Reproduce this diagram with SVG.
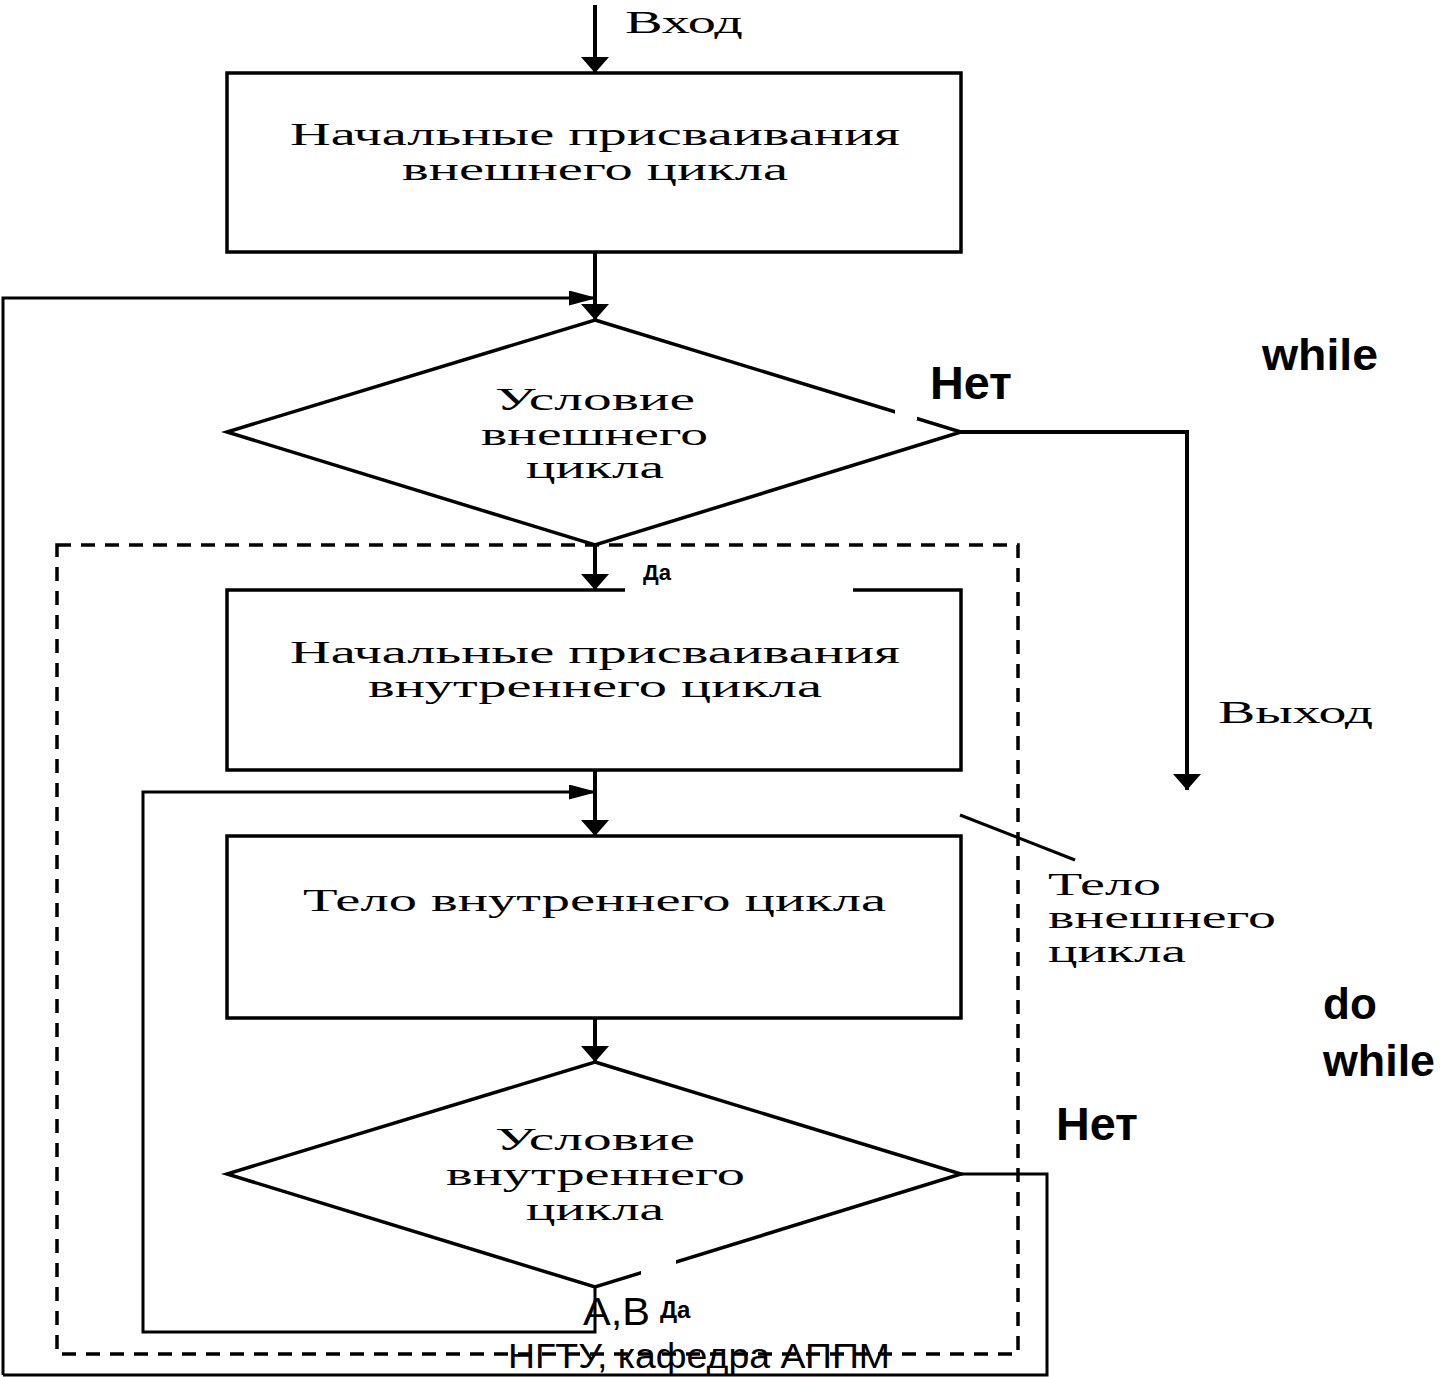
<svg xmlns="http://www.w3.org/2000/svg" width="1442" height="1377" viewBox="0 0 1442 1377">
<defs>
<marker id="ad" viewBox="0 0 16 28" refX="16" refY="14" markerWidth="16" markerHeight="28" markerUnits="userSpaceOnUse" orient="auto"><path d="M0,0 L16,14 L0,28 z" fill="#000"/></marker>
<marker id="ah" viewBox="0 0 28 15" refX="28" refY="7.5" markerWidth="28" markerHeight="15" markerUnits="userSpaceOnUse" orient="auto"><path d="M0,0 L28,7.5 L0,15 z" fill="#000"/></marker>
</defs>
<style>
.box{fill:#fff;stroke:#000;stroke-width:3.5}
.ln{fill:none;stroke:#000;stroke-width:4}
.th{fill:none;stroke:#000;stroke-width:3}
.dash{fill:none;stroke:#000;stroke-width:3.5;stroke-dasharray:14 10}
.sr{font-family:"Liberation Serif","Times New Roman",serif;font-size:32px;fill:#000}
.bd{font-family:"Liberation Sans",Arial,sans-serif;font-weight:bold;fill:#000}
.sn{font-family:"Liberation Sans",Arial,sans-serif;fill:#000}
</style>
<rect width="1442" height="1377" fill="#fff"/>
<g id="connectors">
<line class="ln" x1="595" y1="5" x2="595" y2="73" marker-end="url(#ad)"/>
<line class="ln" x1="595" y1="252" x2="595" y2="320" marker-end="url(#ad)"/>
<polyline class="th" points="3,1375 3,298 597,298" marker-end="url(#ah)"/>
<line class="ln" x1="595" y1="545" x2="595" y2="590" marker-end="url(#ad)"/>
<line class="ln" x1="595" y1="770" x2="595" y2="836" marker-end="url(#ad)"/>
<polyline class="th" points="595,1287 595,1332 143,1332 143,792 597,792" marker-end="url(#ah)"/>
<line class="ln" x1="595" y1="1018" x2="595" y2="1062" marker-end="url(#ad)"/>
<polyline class="ln" points="961,432 1187,432 1187,790" marker-end="url(#ad)"/>
<polyline class="th" points="961,1174 1047,1174 1047,1375 3,1375"/>
<line class="th" x1="960" y1="815" x2="1075" y2="860"/>
</g>
<rect class="dash" x="57" y="545" width="961" height="809"/>
<g id="box1">
<rect class="box" x="227" y="73" width="734" height="179"/>
<text class="sr" x="290" y="145" textLength="610" lengthAdjust="spacingAndGlyphs">Начальные присваивания</text>
<text class="sr" x="402" y="180" textLength="386" lengthAdjust="spacingAndGlyphs">внешнего цикла</text>
</g>
<g id="diamond1">
<polygon class="box" points="595,320 961,432 595,545 227,432"/>
<rect x="895" y="402" width="22" height="18" fill="#fff"/>
<text class="sr" x="495" y="410" textLength="200" lengthAdjust="spacingAndGlyphs">Условие</text>
<text class="sr" x="481" y="445" textLength="227" lengthAdjust="spacingAndGlyphs">внешнего</text>
<text class="sr" x="526" y="478" textLength="138" lengthAdjust="spacingAndGlyphs">цикла</text>
</g>
<g id="box2">
<rect class="box" x="227" y="590" width="734" height="180"/>
<rect x="625" y="563" width="228" height="30" fill="#fff"/>
<text class="bd" x="643" y="580" font-size="22">Да</text>
<text class="sr" x="290" y="663" textLength="610" lengthAdjust="spacingAndGlyphs">Начальные присваивания</text>
<text class="sr" x="368" y="697" textLength="454" lengthAdjust="spacingAndGlyphs">внутреннего цикла</text>
</g>
<g id="box3">
<rect class="box" x="227" y="836" width="734" height="182"/>
<text class="sr" x="303" y="911" textLength="583" lengthAdjust="spacingAndGlyphs">Тело внутреннего цикла</text>
</g>
<g id="diamond2">
<polygon class="box" points="595,1062 961,1174 595,1287 227,1174"/>
<rect x="641" y="1256" width="35" height="26" fill="#fff"/>
<text class="sr" x="495" y="1150" textLength="200" lengthAdjust="spacingAndGlyphs">Условие</text>
<text class="sr" x="446" y="1185" textLength="299" lengthAdjust="spacingAndGlyphs">внутреннего</text>
<text class="sr" x="526" y="1220" textLength="138" lengthAdjust="spacingAndGlyphs">цикла</text>
</g>
<g id="labels">
<text class="sr" x="625" y="33" textLength="118" lengthAdjust="spacingAndGlyphs">Вход</text>
<text class="bd" x="930" y="399" font-size="46" textLength="82" lengthAdjust="spacingAndGlyphs">Нет</text>
<text class="bd" x="1262" y="370" font-size="44" textLength="116" lengthAdjust="spacingAndGlyphs">while</text>
<text class="sr" x="1218" y="723" textLength="155" lengthAdjust="spacingAndGlyphs">Выход</text>
<text class="sr" x="1048" y="895" textLength="113" lengthAdjust="spacingAndGlyphs">Тело</text>
<text class="sr" x="1048" y="928" textLength="228" lengthAdjust="spacingAndGlyphs">внешнего</text>
<text class="sr" x="1048" y="962" textLength="138" lengthAdjust="spacingAndGlyphs">цикла</text>
<text class="bd" x="1323" y="1019" font-size="44">do</text>
<text class="bd" x="1323" y="1076" font-size="44" textLength="112" lengthAdjust="spacingAndGlyphs">while</text>
<text class="bd" x="1056" y="1140" font-size="46" textLength="82" lengthAdjust="spacingAndGlyphs">Нет</text>
<text class="sn" x="583" y="1325" font-size="38" textLength="67" lengthAdjust="spacingAndGlyphs">А,В</text>
<text class="bd" x="660" y="1318" font-size="24">Да</text>
<text class="sn" x="508" y="1368" font-size="35" textLength="382" lengthAdjust="spacingAndGlyphs">НГТУ, кафедра АППМ</text>
</g>
</svg>
